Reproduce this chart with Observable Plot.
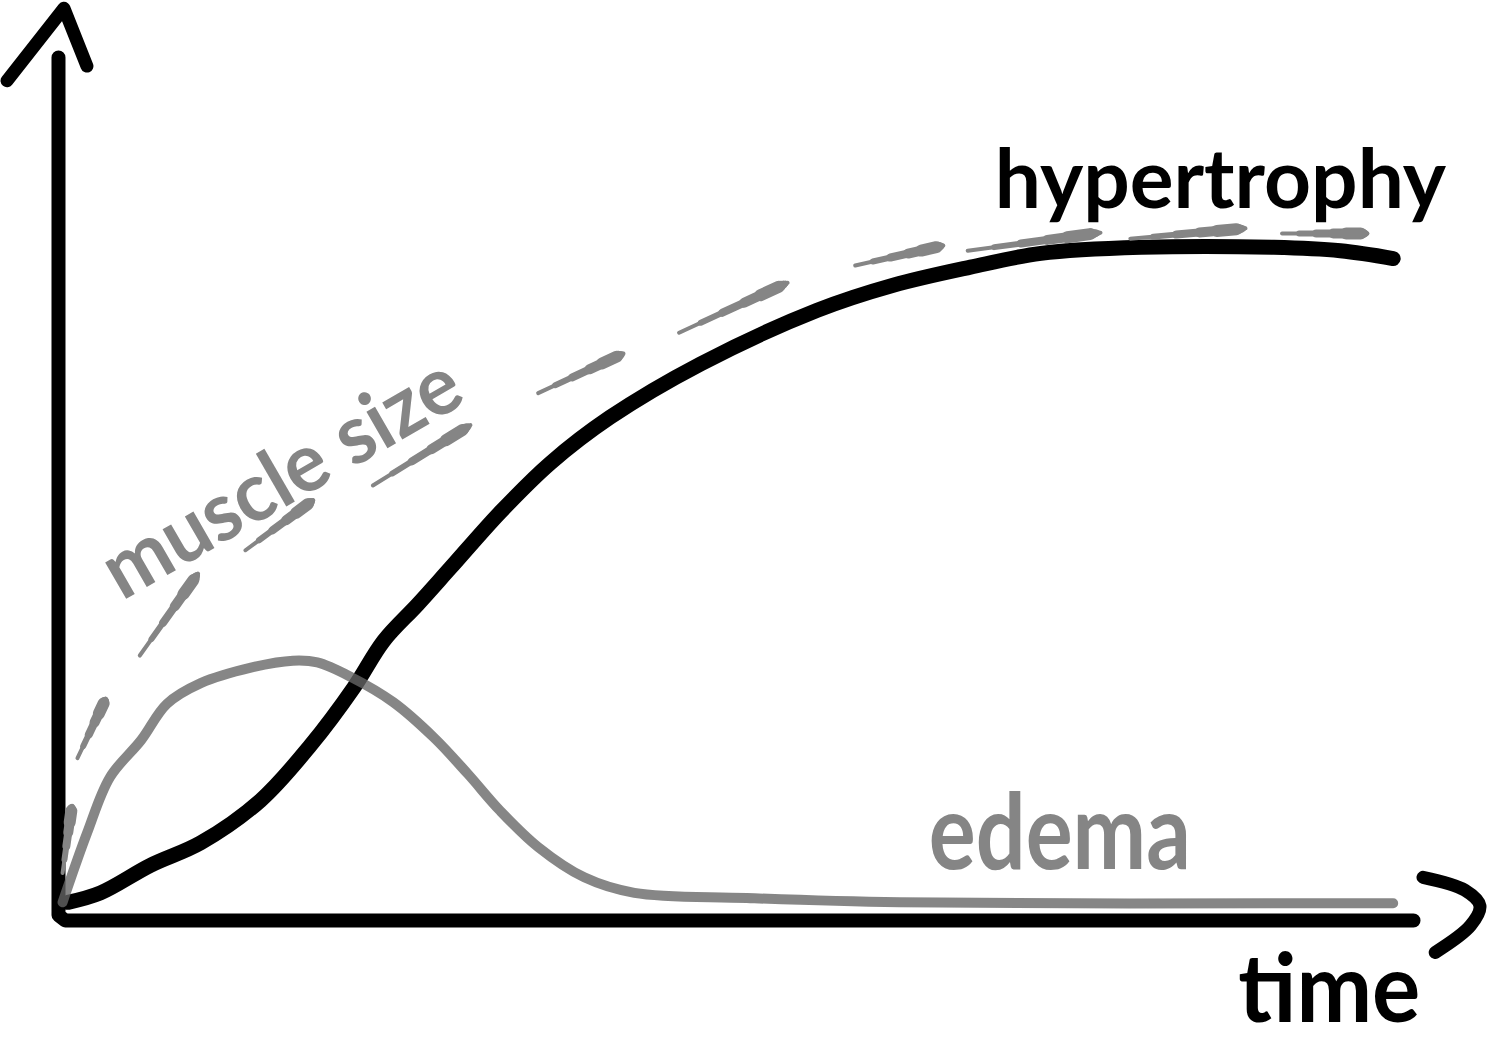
<!DOCTYPE html>
<html>
<head>
<meta charset="utf-8">
<script src="https://cdn.jsdelivr.net/npm/d3@7"></script>
<script src="https://cdn.jsdelivr.net/npm/@observablehq/plot@0.6"></script>
<style>
  body { margin: 0; background: #fff; }
  #chart svg { display: block; }
</style>
</head>
<body>
<div id="chart"></div>
<script>
// values, time 0..100 along x, size 0..100 along y
const hypTime = [0.7, 3.1, 6.8, 10.5, 14.9, 18.6, 21.8, 24.0, 26.5, 28.9, 32.6, 36.3, 40.7, 47.4, 56.0, 61.6, 67.3, 72.5, 79.9, 89.7, 94.6, 98.5];
const hypSize = [2.1, 3.2, 6.4, 9.0, 13.9, 20.3, 27.0, 32.4, 36.6, 40.8, 47.3, 53.0, 58.3, 64.5, 70.7, 73.6, 75.7, 77.3, 78.0, 78.0, 77.6, 76.7];

const edemaTime = [0.3, 2.1, 3.8, 6.1, 8.0, 10.5, 14.2, 17.3, 19.1, 21.6, 24.7, 27.7, 30.2, 32.6, 35.4, 38.8, 42.5, 50.8, 62.1, 98.5];
const edemaSize = [2.1, 10.1, 16.6, 20.9, 25.1, 27.5, 29.3, 30.1, 29.9, 28.2, 25.3, 21.2, 17.0, 12.7, 8.5, 5.0, 3.2, 2.6, 2.1, 2.0];

// muscle size is drawn as separate dashes (start -> end)
const dashStartTime = [0.3, 1.4, 6.0, 13.8, 23.2, 35.4, 45.8, 58.8, 67.1, 79.1, 90.3];
const dashStartSize = [5.5, 18.8, 30.7, 42.9, 50.4, 61.1, 68.1, 75.9, 77.6, 79.0, 79.6];
const dashEndTime = [1.0, 3.5, 10.3, 18.8, 30.4, 41.7, 53.8, 65.3, 76.9, 87.6, 96.6];
const dashEndSize = [13.3, 25.7, 40.2, 48.7, 57.4, 65.7, 73.9, 78.2, 79.7, 80.2, 79.6];

// axes and the two hand drawn arrow heads
const axisTime = [0, 0, 0.5, 100];
const axisSize = [100, 0.6, 0, 0];
const upArrowTime = [-3.8, 0.4, 2.1];
const upArrowSize = [97.3, 105.7, 99.0];
const rightArrowTime = [100.7, 103.8, 104.9, 104.2, 101.6];
const rightArrowSize = [5.0, 3.5, 1.7, -0.6, -3.7];

const labelText = ["hypertrophy", "muscle size", "edema", "time"];
const labelTime = [102.4, 16.5, 73.9, 100.5];
const labelSize = [82.6, 51.2, 6.0, -11.8];

const toPoints = (xs, ys) => xs.map((x, i) => ({x, y: ys[i]}));
const hypertrophy = toPoints(hypTime, hypSize);
const edema = toPoints(edemaTime, edemaSize);
const axis = toPoints(axisTime, axisSize);
const upArrow = toPoints(upArrowTime, upArrowSize);
const rightArrow = toPoints(rightArrowTime, rightArrowSize);
const dashes = dashStartTime.map((t, i) => ({t1: t, v1: dashStartSize[i], t2: dashEndTime[i], v2: dashEndSize[i]}));

const gray = "#858585";
const font = "Lato, 'Noto Sans', sans-serif";

// each dash gets thicker toward its end, like a brush stroke
const taper = [[0, 1, 4], [0.2, 0.98, 6], [0.4, 0.96, 8], [0.6, 0.94, 10], [0.75, 0.92, 12]];
const dashLayers = taper.map(([a, b, w]) =>
  Plot.link(dashes, {
    x1: d => d.t1 + (d.t2 - d.t1) * a, y1: d => d.v1 + (d.v2 - d.v1) * a,
    x2: d => d.t1 + (d.t2 - d.t1) * b, y2: d => d.v1 + (d.v2 - d.v1) * b,
    stroke: gray, strokeWidth: w, strokeLinecap: "round"
  })
);

const label = (i, fill, size, anchor = "middle", angle = 0) => Plot.text([i], {
  x: i => labelTime[i], y: i => labelSize[i], text: i => labelText[i],
  fill, fontSize: size, fontFamily: font, fontWeight: "bold",
  rotate: angle, textAnchor: anchor, lineAnchor: angle ? "middle" : "bottom"
});

const chart = Plot.plot({
  width: 1487,
  height: 1049,
  margin: 0,
  x: { domain: [-4.28, 105.46], axis: null },
  y: { domain: [-14.95, 106.6], axis: null },
  marks: [
    Plot.line(axis, { x: "x", y: "y", stroke: "black", strokeWidth: 14, strokeLinecap: "round", strokeLinejoin: "round" }),
    Plot.line(upArrow, { x: "x", y: "y", stroke: "black", strokeWidth: 13, strokeLinecap: "round", strokeLinejoin: "round" }),
    Plot.line(rightArrow, { x: "x", y: "y", stroke: "black", strokeWidth: 13, strokeLinecap: "round", curve: "catmull-rom" }),
    Plot.line(hypertrophy, { x: "x", y: "y", stroke: "black", strokeWidth: 15, strokeLinecap: "round", curve: "catmull-rom" }),
    Plot.line(edema, { x: "x", y: "y", stroke: "#656565", strokeOpacity: 0.79, strokeWidth: 10, strokeLinecap: "round", curve: "catmull-rom" }),
    ...dashLayers,
    label(0, "black", 82, "end"),
    label(3, "black", 95, "end"),
    label(1, gray, 82, "middle", -30),
    label(2, gray, 105)
  ]
});

// squeeze the labels to the width of the handwriting
const lengths = {"muscle size": 400, "edema": 262, "time": 182};
d3.select(chart).selectAll("text").each(function () {
  const L = lengths[this.textContent];
  if (L) {
    this.setAttribute("textLength", L);
    this.setAttribute("lengthAdjust", "spacingAndGlyphs");
  }
});

d3.select('#chart').append(() => chart);
</script>
</body>
</html>
